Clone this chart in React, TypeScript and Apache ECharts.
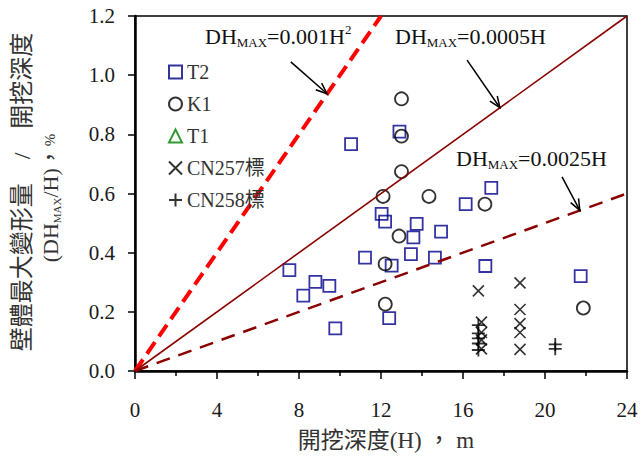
import React, { useEffect, useRef } from "react";
import * as echarts from "echarts";

// Wall deflection ratio (DHmax / H, %) against excavation depth H (m)
const t2Points: number[][] = [
  [7.53, 0.341], [8.21, 0.255], [8.8, 0.301], [9.48, 0.288], [9.77, 0.144],
  [10.54, 0.767], [11.22, 0.383], [12.03, 0.531], [12.2, 0.505], [12.4, 0.179],
  [12.52, 0.356], [12.9, 0.809], [13.46, 0.395], [13.58, 0.452], [13.74, 0.497],
  [14.63, 0.383], [14.93, 0.471], [16.13, 0.564], [17.09, 0.355], [17.38, 0.619],
  [21.74, 0.321],
];
const k1Points: number[][] = [
  [13.0, 0.92], [13.0, 0.794], [13.0, 0.674], [12.1, 0.59], [14.34, 0.59],
  [17.07, 0.564], [12.88, 0.456], [12.2, 0.362], [12.21, 0.226], [21.87, 0.213],
];
const t1Points: number[][] = [];
const cn257Points: number[][] = [
  [16.75, 0.271], [16.9, 0.165], [16.9, 0.13], [16.9, 0.105], [16.9, 0.075],
  [18.78, 0.298], [18.78, 0.208], [18.78, 0.16], [18.78, 0.13], [18.78, 0.073],
];
const cn258Points: number[][] = [
  [16.75, 0.155], [16.75, 0.127], [16.75, 0.11], [16.75, 0.093], [16.75, 0.071],
  [20.5, 0.09], [20.5, 0.075],
];

// Reference envelopes
const envelopeH2: number[][] = [[0, 0], [12, 1.2]];
const envelope0005: number[][] = [[0, 0], [24, 1.2]];
const envelope0025: number[][] = [[0, 0], [24, 0.6]];

// Annotation arrows (tail -> tip, in data units)
const arrowTails: number[][] = [[7.6, 1.045], [16.2, 1.051], [20.83, 0.656]];
const arrowTips: number[][] = [[9.37, 0.937], [17.8, 0.89], [21.7, 0.543]];

const xAxisMin = 0;
const xAxisMax = 24;
const xAxisStep = 4;
const yAxisMin = 0;
const yAxisMax = 1.2;
const yAxisStep = 0.2;

const SERIF = '"Liberation Serif", "Times New Roman", serif';
const MIXED = '"Liberation Serif", "Noto Sans CJK TC", serif';
const CROSS = "path://M0,0L10,10M10,0L0,10";
const PLUS = "path://M5,0L5,10M0,5L10,5";

function annotationRich() {
  return {
    m: { fontSize: 22, fontFamily: SERIF, fill: "#111", lineHeight: 26 },
    s: { fontSize: 13, fontFamily: SERIF, fill: "#111", lineHeight: 10, verticalAlign: "bottom" },
    p: { fontSize: 13, fontFamily: SERIF, fill: "#111", lineHeight: 13, verticalAlign: "top" },
  };
}

export default function App() {
  const ref = useRef<HTMLDivElement>(null);

  useEffect(() => {
    if (!ref.current) return;
    const chart = echarts.init(ref.current, null, { renderer: "svg" });

    const option: any = {
      animation: false,
      backgroundColor: "#fff",
      grid: {
        left: 135,
        right: 16,
        top: 16,
        bottom: 86,
        show: true,
        borderColor: "#000",
        borderWidth: 1.5,
      },
      legend: {
        orient: "vertical",
        left: 163,
        top: 57,
        itemWidth: 13,
        itemHeight: 13,
        itemGap: 12,
        textStyle: { fontSize: 20, fontFamily: MIXED, color: "#333", lineHeight: 20 },
        data: ["T2", "K1", "T1", "CN257標", "CN258標"],
      },
      xAxis: {
        type: "value",
        min: xAxisMin,
        max: xAxisMax,
        interval: xAxisStep,
        axisLine: { lineStyle: { color: "#000", width: 2.5 } },
        axisTick: { length: 8, inside: false, lineStyle: { color: "#000", width: 1.5 } },
        minorTick: { show: true, splitNumber: 2, length: 5, lineStyle: { color: "#000", width: 1.5 } },
        splitLine: { show: false },
        axisLabel: { fontSize: 21, fontFamily: SERIF, color: "#1a1a1a", margin: 28 },
      },
      yAxis: {
        type: "value",
        min: yAxisMin,
        max: yAxisMax,
        interval: yAxisStep,
        axisLine: { lineStyle: { color: "#000", width: 2.5 } },
        axisTick: { length: 7, inside: false, lineStyle: { color: "#000", width: 1.5 } },
        splitLine: { show: false },
        axisLabel: {
          fontSize: 21,
          fontFamily: SERIF,
          color: "#1a1a1a",
          margin: 20,
          formatter: (v: number) => v.toFixed(1),
        },
      },
      series: [
        {
          type: "line",
          data: envelopeH2,
          symbol: "none",
          lineStyle: { color: "#ff0000", width: 4, type: [14, 7] },
          silent: true,
        },
        {
          type: "line",
          data: envelope0005,
          symbol: "none",
          lineStyle: { color: "#8b0000", width: 1.6 },
          silent: true,
        },
        {
          type: "line",
          data: envelope0025,
          symbol: "none",
          lineStyle: { color: "#8b0000", width: 2.5, type: [14, 9] },
          silent: true,
        },
        {
          name: "T2",
          type: "scatter",
          data: t2Points,
          symbol: "rect",
          symbolSize: 12,
          itemStyle: { color: "rgba(0,0,0,0)", borderColor: "#00008b", borderWidth: 1.8 },
        },
        {
          name: "K1",
          type: "scatter",
          data: k1Points,
          symbol: "circle",
          symbolSize: 13,
          itemStyle: { color: "rgba(0,0,0,0)", borderColor: "#000", borderWidth: 1.8 },
        },
        {
          name: "T1",
          type: "scatter",
          data: t1Points,
          symbol: "triangle",
          symbolSize: 13,
          itemStyle: { color: "rgba(0,0,0,0)", borderColor: "#008000", borderWidth: 1.8 },
        },
        {
          name: "CN257標",
          type: "scatter",
          data: cn257Points,
          symbol: CROSS,
          symbolSize: 11,
          itemStyle: { color: "#000", borderColor: "#000", borderWidth: 1.6 },
        },
        {
          name: "CN258標",
          type: "scatter",
          data: cn258Points,
          symbol: PLUS,
          symbolSize: 13,
          itemStyle: { color: "#000", borderColor: "#000", borderWidth: 1.8 },
        },
      ],
    };

    chart.setOption(option);

    const toPx = (p: number[]) => chart.convertToPixel({ gridIndex: 0 }, p) as number[];
    const arrowGraphics: any[] = [];
    arrowTails.forEach((tail, i) => {
      const a = toPx(tail);
      const b = toPx(arrowTips[i]);
      const ang = Math.atan2(b[1] - a[1], b[0] - a[0]);
      const len = 12;
      const spread = 0.38;
      const h1 = [b[0] - len * Math.cos(ang - spread), b[1] - len * Math.sin(ang - spread)];
      const h2 = [b[0] - len * Math.cos(ang + spread), b[1] - len * Math.sin(ang + spread)];
      arrowGraphics.push({
        type: "line",
        shape: { x1: a[0], y1: a[1], x2: b[0], y2: b[1] },
        style: { stroke: "#000", lineWidth: 1.5 },
        z: 10,
      });
      arrowGraphics.push({
        type: "polyline",
        shape: { points: [h1, b, h2] },
        style: { stroke: "#000", lineWidth: 1.5, fill: null },
        z: 10,
      });
    });

    const labels = [
      { x: 205, y: 23, text: "{m|DH}{s|MAX}{m|=0.001H}{p|2}" },
      { x: 395, y: 23, text: "{m|DH}{s|MAX}{m|=0.0005H}" },
      { x: 456, y: 145, text: "{m|DH}{s|MAX}{m|=0.0025H}" },
    ].map((l) => ({
      type: "text",
      x: l.x,
      y: l.y,
      z: 10,
      style: {
        text: l.text,
        rich: annotationRich(),
        align: "left",
        verticalAlign: "top",
        fill: "#111",
      },
    }));

    chart.setOption({
      graphic: [
        ...arrowGraphics,
        ...labels,
        {
          type: "text",
          x: 22,
          y: 192,
          rotation: Math.PI / 2,
          style: {
            text: "壁體最大變形量　/　開挖深度",
            fontSize: 24,
            fontFamily: MIXED,
            fill: "#333",
            align: "center",
            verticalAlign: "middle",
          },
        },
        {
          type: "text",
          x: 50,
          y: 198,
          rotation: Math.PI / 2,
          style: {
            text: "{a|(DH}{s|MAX}{a|/H)，}{c|%}",
            align: "center",
            verticalAlign: "middle",
            rich: {
              a: { fontSize: 22, fontFamily: MIXED, fill: "#333", lineHeight: 24 },
              s: { fontSize: 11, fontFamily: SERIF, fill: "#333", lineHeight: 10, verticalAlign: "bottom" },
              c: { fontSize: 15, fontFamily: MIXED, fill: "#333", lineHeight: 24 },
            },
          },
        },
        {
          type: "text",
          x: 386,
          y: 440,
          style: {
            text: "開挖深度(H) ， m",
            fontSize: 23,
            fontFamily: MIXED,
            fill: "#333",
            align: "center",
            verticalAlign: "middle",
          },
        },
      ],
    });

    return () => chart.dispose();
  }, []);

  return (
    <div
      ref={ref}
      style={{ position: "fixed", left: 0, top: 0, width: 643, height: 457, background: "#fff" }}
    />
  );
}
